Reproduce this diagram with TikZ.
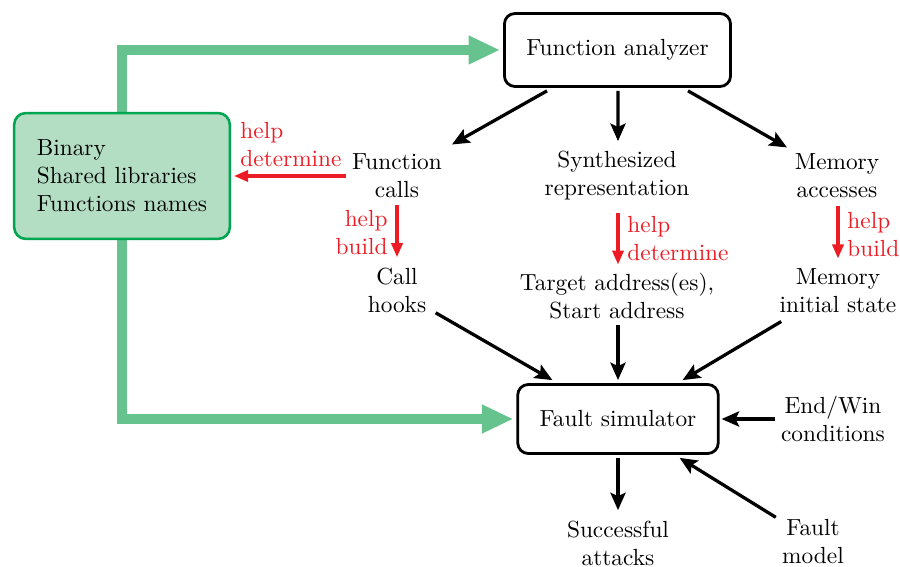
\documentclass[tikz,border=0pt]{standalone}
\usetikzlibrary{arrows.meta,calc}
\definecolor{gline}{RGB}{102,195,142}
\definecolor{gfill}{RGB}{179,222,196}
\definecolor{gborder}{RGB}{0,165,80}
\definecolor{hred}{RGB}{237,28,36}
\tikzset{
  box/.style={draw, line width=1.2pt, rounded corners=4.5pt, fill=white, align=center, inner sep=0pt},
  txt/.style={align=center, inner sep=0pt},
  lbl/.style={text=hred, inner sep=0pt},
  blk/.style={line width=1.4pt, -{Stealth[length=7.5pt,width=6.5pt,inset=1.5pt]}},
  redarrow/.style={hred, line width=1.3pt, -{Triangle[length=6pt,width=4.8pt]}},
  garrow/.style={gline, line width=3.9pt, -{Triangle[length=13.5pt,width=11.5pt]}},
}
\begin{document}
\begin{tikzpicture}[x=0.429pt,y=-0.429pt]
\useasboundingbox (0,0) rectangle (900,567);
% boxes
\node[box, minimum width=97pt, minimum height=31.3pt] (fa) at (617.5,50) {Function analyzer};
\node[box, minimum width=86pt, minimum height=29.6pt] (fs) at (618,419) {Fault simulator};
% green connectors
\draw[garrow] (122,176) |- ($(fa.west)+(-3,0)$);
\draw[garrow] (122,176) |- ($(fs.west)+(-3,0)$);
\node[draw=gborder, fill=gfill, line width=1.1pt, rounded corners=5pt, align=left,
      minimum width=92.5pt, minimum height=54pt, inner sep=0pt] (bin) at (122,176)
      {Binary\\Shared libraries\\Functions names};
% text nodes
\node[txt] (fcalls) at (397,176) {Function\\calls};
\node[txt] (synth) at (617,176) {Synthesized\\representation};
\node[txt] (mem) at (837,176) {Memory\\accesses};
\node[txt] (hooks) at (397,290) {Call\\hooks};
\node[txt] (target) at (617,296) {Target address(es),\\Start address};
\node[txt] (meminit) at (838,291) {Memory\\initial state};
\node[txt] (succ) at (618,543) {Successful\\attacks};
\node[txt] (endwin) at (833,419) {End/Win\\conditions};
\node[txt] (fmodel) at (813,542) {Fault\\model};
% red labels
\node[lbl, anchor=west, align=left] (l1) at (240,145) {help\\determine};
\node[lbl, anchor=east, align=right] (l2) at (388,233) {help\\build};
\node[lbl, anchor=west, align=left] (l3) at (627,239) {help\\determine};
\node[lbl, anchor=west, align=left] (l4) at (847,235) {help\\build};
% red arrows
\draw[redarrow] ($(fcalls.west)+(-6,0)$) -- ($(bin.east)+(3,0)$);
\draw[redarrow] ($(fcalls.south)+(0,7)$) -- ($(hooks.north)+(0,-10)$);
\draw[redarrow] ($(synth.south)+(1,12)$) -- ($(target.north)+(1,-8)$);
\draw[redarrow] ($(mem.south)+(1,7)$) -- ($(meminit.north)+(0,-10)$);
% black arrows
\draw[blk] ($(fa.south)+(-70.5,3)$) -- ($(fcalls.north)+(55,-9)$);
\draw[blk] ($(fa.south)+(0.5,3)$) -- ($(synth.north)+(1,-10)$);
\draw[blk] ($(fa.south)+(70.5,3)$) -- ($(mem.north)+(-50,-6)$);
\draw[blk] ($(hooks.south east)+(9,0)$) -- ($(fs.north west)+(36,-3)$);
\draw[blk] ($(target.south)+(1,6)$) -- ($(fs.north)+(0,-3)$);
\draw[blk] ($(meminit.south west)+(2,8)$) -- ($(fs.north east)+(-37,-3)$);
\draw[blk] ($(endwin.west)+(-6,0)$) -- ($(fs.east)+(2,0)$);
\draw[blk] ($(fmodel.north west)+(-6,-2)$) -- ($(fs.south east)+(-40,3)$);
\draw[blk] ($(fs.south)+(0,3)$) -- ($(succ.north)+(0,-10)$);
\end{tikzpicture}
\end{document}
